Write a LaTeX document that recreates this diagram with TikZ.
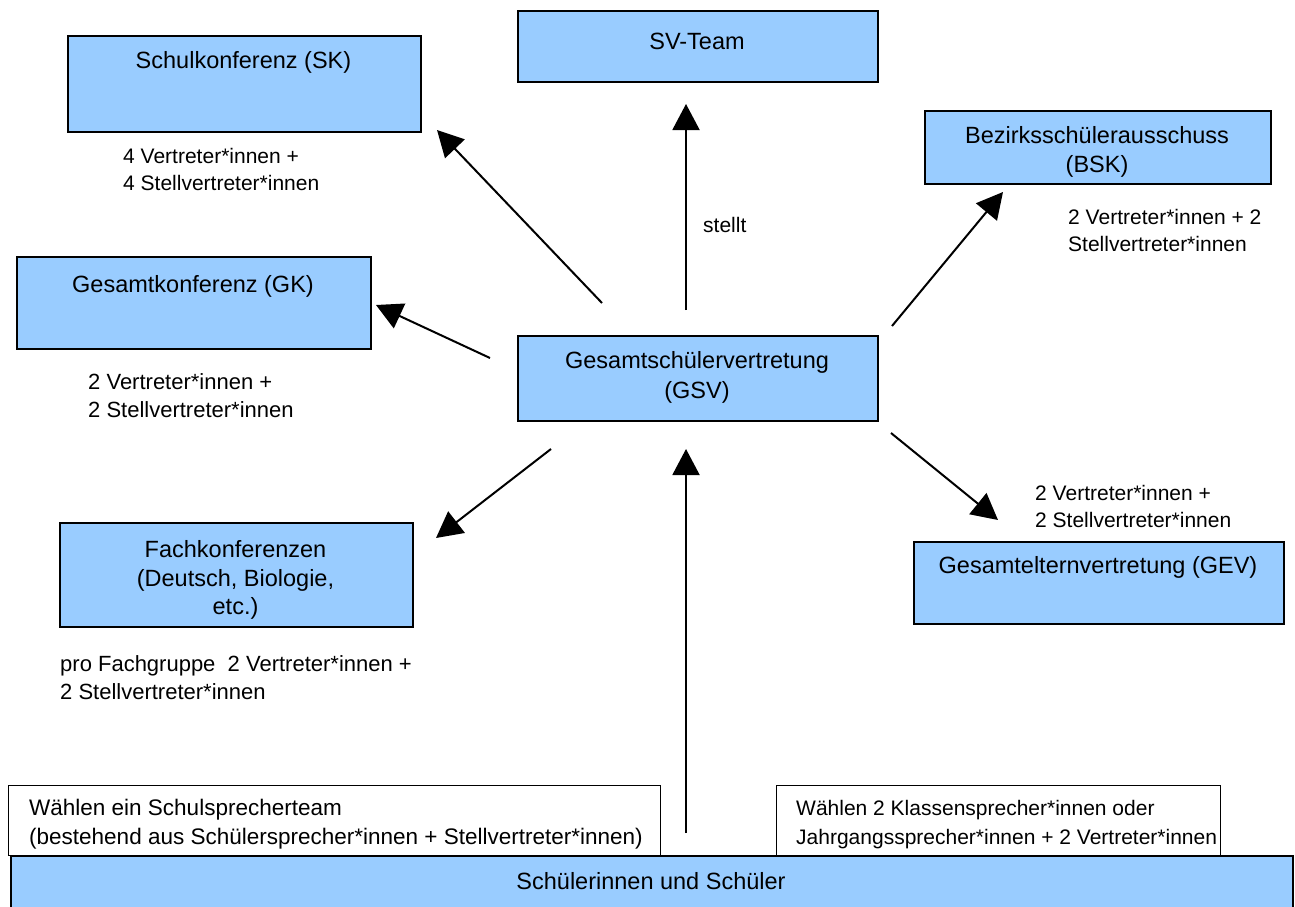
\documentclass[tikz,border=0pt]{standalone}
\usepackage{fontspec}
\setmainfont{Liberation Sans}
\usetikzlibrary{arrows.meta}
\definecolor{boxblue}{RGB}{153,204,255}
\tikzset{
  bluebox/.style={draw=black, line width=1.6pt, fill=boxblue, inner sep=0pt, anchor=north west},
  whitebox/.style={draw=black, line width=0.9pt, fill=white, inner sep=0pt, anchor=north west},
  titletext/.style={inner sep=0pt, anchor=base, font=\fontsize{23.5}{28}\selectfont},
  labeltext/.style={inner sep=0pt, anchor=base west, font=\fontsize{21}{26}\selectfont},
  biglabel/.style={labeltext, font=\fontsize{22}{27}\selectfont},
  bottomlabel/.style={labeltext, font=\fontsize{22.5}{27}\selectfont},
  conn/.style={line width=2pt, -{Triangle[length=26pt,width=27pt]}}
}
\begin{document}
\begin{tikzpicture}[x=1pt,y=-1pt]
\useasboundingbox (0,0) rectangle (1295,907);
% boxes
\node[bluebox, minimum width=353pt, minimum height=96pt] (sk) at (67,35) {};
\node[bluebox, minimum width=360pt, minimum height=71pt] (sv) at (517,10) {};
\node[bluebox, minimum width=346pt, minimum height=73pt] (bsk) at (924,110) {};
\node[bluebox, minimum width=354pt, minimum height=92pt] (gk) at (16,256) {};
\node[bluebox, minimum width=360pt, minimum height=85pt] (gsv) at (517,335) {};
\node[bluebox, minimum width=353pt, minimum height=104pt] (fk) at (59,522) {};
\node[bluebox, minimum width=370pt, minimum height=82pt] (gev) at (913,541) {};
\node[whitebox, minimum width=652pt, minimum height=70pt] (wl) at (8,785) {};
\node[whitebox, minimum width=444pt, minimum height=70pt] (wr) at (776,785) {};
\node[bluebox, minimum width=1282pt, minimum height=60pt] (ss) at (10,855) {};
% titles
\node[titletext] (skT) at (243.5,69) {Schulkonferenz (SK)};
\node[titletext] (svT) at (697,49) {SV-Team};
\node[titletext] (bskT1) at (1097,143) {Bezirksschülerausschuss};
\node[titletext] (bskT2) at (1097,172) {(BSK)};
\node[titletext] (gkT) at (193,292) {Gesamtkonferenz (GK)};
\node[titletext] (gsvT1) at (697,368) {Gesamtschülervertretung};
\node[titletext] (gsvT2) at (697,398) {(GSV)};
\node[titletext] (fkT1) at (235.5,557) {Fachkonferenzen};
\node[titletext] (fkT2) at (235.5,586) {(Deutsch, Biologie,};
\node[titletext] (fkT3) at (235.5,614) {etc.)};
\node[titletext] (gevT) at (1098,573) {Gesamtelternvertretung (GEV)};
\node[titletext] (ssT) at (651,889) {Schülerinnen und Schüler};
% labels
\node[labeltext] (skL1) at (123,163) {4 Vertreter*innen +};
\node[labeltext] (skL2) at (123,190) {4 Stellvertreter*innen};
\node[labeltext] (svL) at (703,232) {stellt};
\node[labeltext] (bskL1) at (1068,224) {2 Vertreter*innen + 2};
\node[labeltext] (bskL2) at (1068,251) {Stellvertreter*innen};
\node[biglabel] (gkL1) at (88,389) {2 Vertreter*innen +};
\node[biglabel] (gkL2) at (88,417) {2 Stellvertreter*innen};
\node[labeltext] (gevL1) at (1035,500) {2 Vertreter*innen +};
\node[labeltext] (gevL2) at (1035,527) {2 Stellvertreter*innen};
\node[biglabel] (fkL1) at (60,671) {pro Fachgruppe\ \ 2 Vertreter*innen +};
\node[biglabel] (fkL2) at (60,699) {2 Stellvertreter*innen};
\node[bottomlabel] (wlL1) at (29,815) {Wählen ein Schulsprecherteam};
\node[bottomlabel] (wlL2) at (29,844) {(bestehend aus Schülersprecher*innen + Stellvertreter*innen)};
\node[labeltext] (wrL1) at (796,815) {Wählen 2 Klassensprecher*innen oder};
\node[labeltext] (wrL2) at (796,844) {Jahrgangssprecher*innen + 2 Vertreter*innen};
% connector end points
\coordinate (aSKs) at (602,303); \coordinate (aSKe) at (437,130);
\coordinate (aSVs) at (686,310); \coordinate (aSVe) at (686,104);
\coordinate (aBSKs) at (892,326); \coordinate (aBSKe) at (1003,192);
\coordinate (aGKs) at (490,358); \coordinate (aGKe) at (376,305);
\coordinate (aFKs) at (551,449); \coordinate (aFKe) at (436,538);
\coordinate (aGEVs) at (891,433); \coordinate (aGEVe) at (998,520);
\coordinate (aSSs) at (686,833); \coordinate (aSSe) at (686,449);
% connectors
\draw[conn] (aSKs) -- (aSKe);
\draw[conn] (aSVs) -- (aSVe);
\draw[conn] (aBSKs) -- (aBSKe);
\draw[conn] (aGKs) -- (aGKe);
\draw[conn] (aFKs) -- (aFKe);
\draw[conn] (aGEVs) -- (aGEVe);
\draw[conn] (aSSs) -- (aSSe);
\end{tikzpicture}
\end{document}
